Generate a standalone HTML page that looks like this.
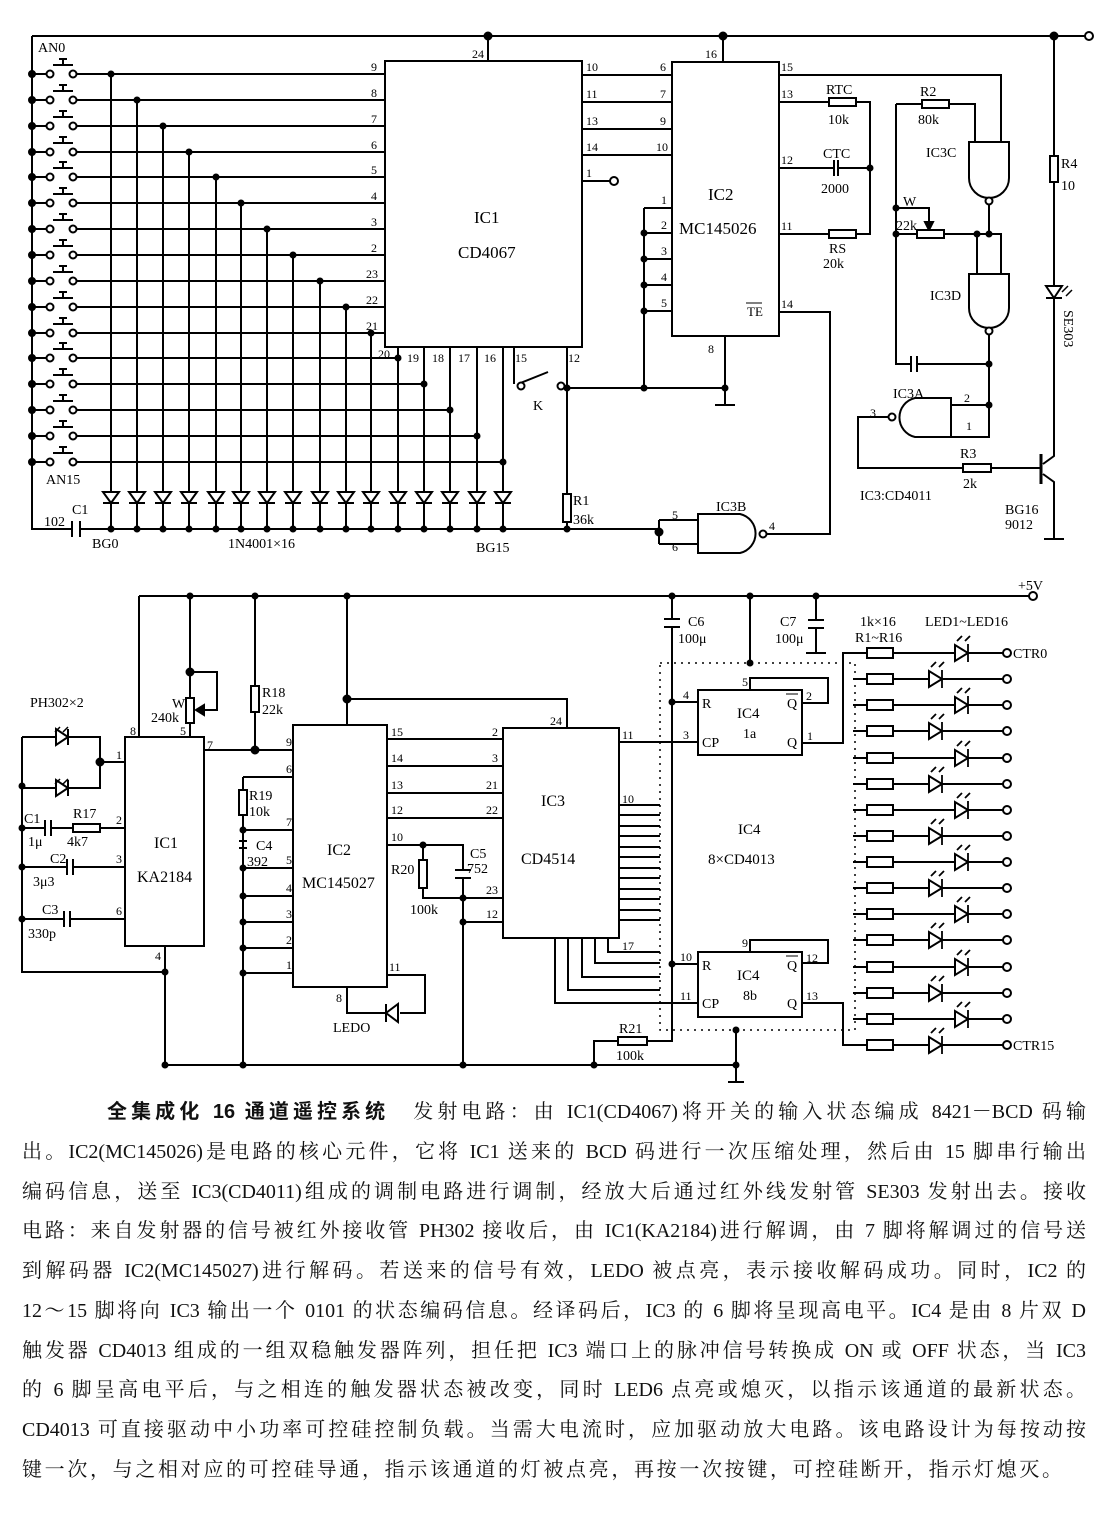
<!DOCTYPE html>
<html><head><meta charset="utf-8"><style>
html,body{margin:0;padding:0;background:#fff;}
#w{position:relative;width:1104px;height:1517px;overflow:hidden;background:#fff;}
svg{position:absolute;left:0;top:0;}
svg text{font-family:"Liberation Serif","Noto Serif CJK SC",serif;fill:#000;}
.t{position:absolute;left:22px;width:1064px;font-family:"Liberation Serif","Noto Serif CJK SC",serif;font-size:20px;line-height:24px;white-space:nowrap;text-align:justify;text-align-last:justify;color:#111;}
.b{font-family:"Liberation Sans","Noto Sans CJK SC",sans-serif;font-weight:bold;}
</style></head><body><div id="w">
<svg width="1104" height="1090" viewBox="0 0 1104 1090" fill="none" stroke="#000" stroke-width="2">
<defs>
<g id="sw">
<path d="M32 0H47M53 -9H73M63 -9V-15M59 -15H67M76 0H80"/>
<circle cx="50" cy="0" r="3.5" fill="#fff"/><circle cx="73" cy="0" r="3.5" fill="#fff"/>
<circle cx="32" cy="0" r="3" fill="#000"/>
</g>
<g id="dd"><path d="M103 492H119L111 503Z" fill="#fff"/><path d="M103 503H119"/></g>
<g id="lr"><path d="M853 0H1003"/><rect x="867" y="-5" width="26" height="10" fill="#fff"/><circle cx="1007" cy="0" r="4" fill="#fff"/></g>
<g id="led"><path d="M-8 -8V8L5 0Z" fill="#fff"/><path d="M5 -9V9M-6 -12l5-5M2 -12l5-5" stroke-width="1.8"/></g>
</defs>
<!-- ===== TOP CIRCUIT ===== -->
<path d="M32 36H1085M32 36V529H72M80 529H659"/>
<circle cx="1089" cy="36" r="4" fill="#fff"/>
<circle cx="488" cy="36" r="3.5" fill="#000"/><circle cx="723" cy="36" r="3.5" fill="#000"/><circle cx="1054" cy="36" r="3.5" fill="#000"/>
<path d="M72 521V537M80 521V537"/>
<use href="#sw" y="74"/><use href="#sw" y="100"/><use href="#sw" y="126"/><use href="#sw" y="152"/><use href="#sw" y="177"/><use href="#sw" y="203"/><use href="#sw" y="229"/><use href="#sw" y="255"/><use href="#sw" y="281"/><use href="#sw" y="307"/><use href="#sw" y="333"/><use href="#sw" y="358"/><use href="#sw" y="384"/><use href="#sw" y="410"/><use href="#sw" y="436"/><use href="#sw" y="462"/>
<path d="M80 74H385M80 100H385M80 126H385M80 152H385M80 177H385M80 203H385M80 229H385M80 255H385M80 281H385M80 307H385M80 333H385M80 358H398M80 384H424M80 410H450M80 436H477M80 462H503"/>
<path d="M111 74V529M137 100V529M163 126V529M189 152V529M216 177V529M241 203V529M267 229V529M293 255V529M320 281V529M346 307V529M371 333V529M398 347V529M424 347V529M450 347V529M477 347V529M503 347V529"/>
<g fill="#000" stroke="none">
<circle cx="111" cy="74" r="3.5"/><circle cx="137" cy="100" r="3.5"/><circle cx="163" cy="126" r="3.5"/><circle cx="189" cy="152" r="3.5"/><circle cx="216" cy="177" r="3.5"/><circle cx="241" cy="203" r="3.5"/><circle cx="267" cy="229" r="3.5"/><circle cx="293" cy="255" r="3.5"/><circle cx="320" cy="281" r="3.5"/><circle cx="346" cy="307" r="3.5"/><circle cx="371" cy="333" r="3.5"/><circle cx="398" cy="358" r="3.5"/><circle cx="424" cy="384" r="3.5"/><circle cx="450" cy="410" r="3.5"/><circle cx="477" cy="436" r="3.5"/><circle cx="503" cy="462" r="3.5"/>
<circle cx="111" cy="529" r="3.5"/><circle cx="137" cy="529" r="3.5"/><circle cx="163" cy="529" r="3.5"/><circle cx="189" cy="529" r="3.5"/><circle cx="216" cy="529" r="3.5"/><circle cx="241" cy="529" r="3.5"/><circle cx="267" cy="529" r="3.5"/><circle cx="293" cy="529" r="3.5"/><circle cx="320" cy="529" r="3.5"/><circle cx="346" cy="529" r="3.5"/><circle cx="371" cy="529" r="3.5"/><circle cx="398" cy="529" r="3.5"/><circle cx="424" cy="529" r="3.5"/><circle cx="450" cy="529" r="3.5"/><circle cx="477" cy="529" r="3.5"/><circle cx="503" cy="529" r="3.5"/><circle cx="567" cy="529" r="3.5"/>
</g>
<use href="#dd" x="0"/><use href="#dd" x="26"/><use href="#dd" x="52"/><use href="#dd" x="78"/><use href="#dd" x="105"/><use href="#dd" x="130"/><use href="#dd" x="156"/><use href="#dd" x="182"/><use href="#dd" x="209"/><use href="#dd" x="235"/><use href="#dd" x="260"/><use href="#dd" x="287"/><use href="#dd" x="313"/><use href="#dd" x="339"/><use href="#dd" x="366"/><use href="#dd" x="392"/>
<rect x="385" y="61" width="197" height="286" fill="#fff"/>
<path d="M488 36V61M398 347V358M424 347V384M450 347V410M477 347V436M503 347V462"/>
<path d="M514 347V384M518 384L548 372M567 347V529"/>
<circle cx="521" cy="386" r="3.5" fill="#fff"/><circle cx="561" cy="386" r="3.5" fill="#fff"/>
<path d="M565 386H567"/>
<rect x="563" y="494" width="8" height="28" fill="#fff"/>
<path d="M582 75H672M582 102H672M582 129H672M582 155H672M582 181H610"/>
<circle cx="614" cy="181" r="4" fill="#fff"/>
<rect x="672" y="62" width="107" height="274" fill="#fff"/>
<path d="M723 36V62M644 208H672M644 233H672M644 259H672M644 285H672M644 311H672M644 208V388M567 388H725M725 336V405M715 405H735"/>
<g fill="#000" stroke="none"><circle cx="644" cy="233" r="3.5"/><circle cx="644" cy="259" r="3.5"/><circle cx="644" cy="285" r="3.5"/><circle cx="644" cy="311" r="3.5"/><circle cx="644" cy="388" r="3.5"/><circle cx="725" cy="388" r="3.5"/><circle cx="567" cy="388" r="3.5"/><circle cx="870" cy="168" r="3.5"/></g>
<path d="M779 75H1001V142M779 102H829M856 102H870V234H856M779 168H834M838 168H870M779 234H829M779 312H830V534H765"/>
<rect x="829" y="98" width="27" height="8" fill="#fff"/><rect x="829" y="230" width="27" height="8" fill="#fff"/>
<path d="M834 160V176M838 160V176"/>
<path d="M896 104H922M949 104H975V142M896 104V364H911M917 364H989M911 356V372M917 356V372"/>
<rect x="922" y="100" width="27" height="8" fill="#fff"/>
<path d="M896 208H929V224"/>
<path d="M925 222L929 230L933 222Z" fill="#000"/>
<path d="M896 234H917M944 234H1001V274M977 234V274M989 205V234"/>
<rect x="917" y="230" width="27" height="8" fill="#fff"/>
<path d="M969 142H1009V178A20 20 0 0 1 969 178Z" fill="#fff"/><circle cx="989" cy="201" r="3.5" fill="#fff"/>
<path d="M969 274H1009V308A20 20 0 0 1 969 308Z" fill="#fff"/><circle cx="989" cy="331" r="3.5" fill="#fff"/>
<path d="M989 335V437H951M989 405H951"/>
<path d="M951 398H915A20 20 0 0 0 915 437H951Z" fill="#fff"/><circle cx="892" cy="417" r="3.5" fill="#fff"/>
<path d="M888 417H858V468H963M991 468H1041"/>
<rect x="963" y="464" width="28" height="8" fill="#fff"/>
<g fill="#000" stroke="none"><circle cx="896" cy="208" r="3.5"/><circle cx="896" cy="234" r="3.5"/><circle cx="977" cy="234" r="3.5"/><circle cx="989" cy="234" r="3.5"/><circle cx="989" cy="364" r="3.5"/><circle cx="989" cy="405" r="3.5"/></g>
<path d="M1054 36V156M1054 182V456L1043 464M1043 474L1054 482V539M1044 539H1064"/>
<rect x="1050" y="156" width="8" height="26" fill="#fff"/>
<path d="M1041 454V484" stroke-width="3"/>
<path d="M1046 286H1062L1054 298Z" fill="#fff"/><path d="M1046 298H1062"/>
<path d="M1062 292l6-6M1066 296l6-6" stroke-width="1.5"/>
<path d="M659 520H698M659 544H698M659 520V544"/>
<circle cx="659" cy="532" r="3.5" fill="#000"/>
<path d="M698 514H740A20 20 0 0 1 740 553H698Z" fill="#fff"/><circle cx="763" cy="534" r="3.5" fill="#fff"/>

<g stroke="none" font-size="14">
<text x="38" y="52">AN0</text><text x="46" y="484">AN15</text>
<text x="72" y="514">C1</text><text x="44" y="526">102</text>
<text x="92" y="548">BG0</text><text x="228" y="548">1N4001×16</text><text x="476" y="552">BG15</text>
<text x="371" y="71" font-size="12">9</text><text x="371" y="97" font-size="12">8</text><text x="371" y="123" font-size="12">7</text><text x="371" y="149" font-size="12">6</text><text x="371" y="174" font-size="12">5</text><text x="371" y="200" font-size="12">4</text><text x="371" y="226" font-size="12">3</text><text x="371" y="252" font-size="12">2</text><text x="366" y="278" font-size="12">23</text><text x="366" y="304" font-size="12">22</text><text x="366" y="330" font-size="12">21</text>
<text x="378" y="358" font-size="12">20</text><text x="407" y="362" font-size="12">19</text><text x="432" y="362" font-size="12">18</text><text x="458" y="362" font-size="12">17</text><text x="484" y="362" font-size="12">16</text><text x="515" y="362" font-size="12">15</text><text x="568" y="362" font-size="12">12</text>
<text x="472" y="58" font-size="12">24</text>
<text x="474" y="223" font-size="17">IC1</text><text x="458" y="258" font-size="17">CD4067</text>
<text x="533" y="410">K</text><text x="573" y="505">R1</text><text x="573" y="524">36k</text>
<text x="586" y="71" font-size="12">10</text><text x="586" y="98" font-size="12">11</text><text x="586" y="125" font-size="12">13</text><text x="586" y="151" font-size="12">14</text><text x="586" y="177" font-size="12">1</text>
<text x="660" y="71" font-size="12">6</text><text x="660" y="98" font-size="12">7</text><text x="660" y="125" font-size="12">9</text><text x="656" y="151" font-size="12">10</text>
<text x="661" y="204" font-size="12">1</text><text x="661" y="229" font-size="12">2</text><text x="661" y="255" font-size="12">3</text><text x="661" y="281" font-size="12">4</text><text x="661" y="307" font-size="12">5</text>
<text x="705" y="58" font-size="12">16</text><text x="708" y="353" font-size="12">8</text>
<text x="708" y="200" font-size="17">IC2</text><text x="679" y="234" font-size="17">MC145026</text>
<text x="781" y="71" font-size="12">15</text><text x="781" y="98" font-size="12">13</text><text x="781" y="164" font-size="12">12</text><text x="781" y="230" font-size="12">11</text><text x="781" y="308" font-size="12">14</text>
<text x="747" y="316" font-size="13">TE</text><path d="M746 303H762" stroke="#000" stroke-width="1"/>
<text x="826" y="94">RTC</text><text x="828" y="124">10k</text><text x="823" y="158">CTC</text><text x="821" y="193">2000</text><text x="829" y="253">RS</text><text x="823" y="268">20k</text>
<text x="920" y="96">R2</text><text x="918" y="124">80k</text><text x="926" y="157">IC3C</text>
<text x="903" y="206">W</text><text x="896" y="230">22k</text><text x="930" y="300">IC3D</text><text x="893" y="398">IC3A</text>
<text x="870" y="417" font-size="12">3</text><text x="964" y="402" font-size="12">2</text><text x="966" y="430" font-size="12">1</text>
<text x="960" y="458">R3</text><text x="963" y="488">2k</text>
<text x="860" y="500">IC3:CD4011</text><text x="1005" y="514">BG16</text><text x="1005" y="529">9012</text>
<text x="1061" y="168">R4</text><text x="1061" y="190">10</text>
<text x="1064" y="310" transform="rotate(90 1064 310)">SE303</text>
<text x="716" y="511">IC3B</text><text x="672" y="519" font-size="12">5</text><text x="672" y="551" font-size="12">6</text><text x="769" y="530" font-size="12">4</text>
</g>

<!-- ===== BOTTOM CIRCUIT ===== -->
<path d="M139 596H1029M139 596V737"/>
<circle cx="1033" cy="596" r="4" fill="#fff"/>
<g fill="#000" stroke="none"><circle cx="190" cy="596" r="3.5"/><circle cx="255" cy="596" r="3.5"/><circle cx="347" cy="596" r="3.5"/><circle cx="672" cy="596" r="3.5"/><circle cx="750" cy="596" r="3.5"/><circle cx="816" cy="596" r="3.5"/></g>
<path d="M190 596V698M190 672H217V710H200M190 723V737"/>
<circle cx="190" cy="672" r="3.5" fill="#000"/>
<rect x="186" y="698" width="8" height="25" fill="#fff"/>
<path d="M196 710l8-5v10z" fill="#000"/>
<path d="M255 596V686M255 712V750M204 750H293"/>
<rect x="251" y="686" width="8" height="26" fill="#fff"/>
<circle cx="255" cy="750" r="3.5" fill="#000"/>
<rect x="125" y="737" width="79" height="209" fill="#fff"/>
<path d="M100 762H125M22 737H100V762M22 788H100V762M22 737V972H165M165 946V1065H736"/>
<circle cx="100" cy="762" r="3.5" fill="#000"/>
<path d="M56 729V745L68 737Z" fill="#fff"/><path d="M68 729V745"/>
<path d="M56 780V796L68 788Z" fill="#fff"/><path d="M68 780V796"/>
<path d="M60 727l-5 5M68 727l-5 5M60 779l-5 5M68 779l-5 5" stroke-width="1.5"/>
<g fill="#000" stroke="none"><circle cx="22" cy="786" r="3.5"/><circle cx="22" cy="828" r="3.5"/><circle cx="22" cy="867" r="3.5"/><circle cx="22" cy="919" r="3.5"/><circle cx="165" cy="972" r="3.5"/></g>
<path d="M22 828H45M51 828H73M100 828H125M45 820V836M51 820V836"/>
<rect x="73" y="824" width="27" height="8" fill="#fff"/>
<path d="M22 867H67M73 867H125M67 859V875M73 859V875M22 919H64M70 919H125M64 911V927M70 911V927"/>
<rect x="293" y="725" width="94" height="262" fill="#fff"/>
<path d="M347 596V725M347 699H567V728"/>
<circle cx="347" cy="699" r="3.5" fill="#000"/>
<path d="M243 777H293M243 777V790M243 815V1065M243 830H293M239 841H247M239 848H247M243 868H293M243 896H293M243 922H293M243 948H293M243 973H293"/>
<rect x="239" y="790" width="8" height="25" fill="#fff"/>
<g fill="#000" stroke="none"><circle cx="243" cy="830" r="3.5"/><circle cx="243" cy="868" r="3.5"/><circle cx="243" cy="896" r="3.5"/><circle cx="243" cy="922" r="3.5"/><circle cx="243" cy="948" r="3.5"/><circle cx="243" cy="973" r="3.5"/><circle cx="243" cy="1065" r="3.5"/><circle cx="165" cy="1065" r="3.5"/></g>
<path d="M347 987V1013H385M400 1013H425V975H387"/>
<path d="M398 1004V1022L386 1013Z" fill="#fff"/><path d="M386 1004V1022"/>
<path d="M387 739H503M387 766H503M387 793H503M387 818H503M387 845H463V870M423 845V860M423 888V898H503M463 878V1065M455 870H471M455 878H471M463 922H503"/>
<rect x="419" y="860" width="8" height="28" fill="#fff"/>
<g fill="#000" stroke="none"><circle cx="423" cy="845" r="3.5"/><circle cx="463" cy="898" r="3.5"/><circle cx="463" cy="922" r="3.5"/><circle cx="463" cy="1065" r="3.5"/></g>
<rect x="503" y="728" width="116" height="210" fill="#fff"/>
<path d="M619 742H698M619 805H660M619 815H660M619 826H660M619 836H660M619 847H660M619 857H660M619 868H660M619 878H660M619 889H660M619 899H660M619 910H660M619 920H660"/>
<path d="M608 938V952H660M595 938V963H660M582 938V977H660M568 938V990H660M555 938V1003H698"/>
<rect x="660" y="663" width="195" height="367" stroke-dasharray="2 5" stroke-width="1.5"/>
<path d="M672 596V619M672 627V1041H647M618 1041H594V1065M664 619H680M664 627H680M672 702H698M672 964H698"/>
<rect x="618" y="1037" width="29" height="8" fill="#fff"/>
<g fill="#000" stroke="none"><circle cx="672" cy="702" r="3.5"/><circle cx="672" cy="964" r="3.5"/><circle cx="750" cy="663" r="3.5"/><circle cx="736" cy="1030" r="3.5"/><circle cx="736" cy="1065" r="3.5"/><circle cx="594" cy="1065" r="3.5"/></g>
<path d="M750 596V663M816 596V620M816 628V653M806 653H826M808 620H824M808 628H824"/>
<path d="M736 1030V1082M728 1082H744"/>
<rect x="698" y="690" width="104" height="65" fill="#fff"/>
<path d="M750 690V678H828V703H802M802 743H843V653H867"/>
<rect x="698" y="952" width="104" height="65" fill="#fff"/>
<path d="M750 952V940H828V963H802M802 1003H843V1045H867"/>
<use href="#lr" y="653"/><use href="#lr" y="679"/><use href="#lr" y="705"/><use href="#lr" y="731"/><use href="#lr" y="758"/><use href="#lr" y="784"/><use href="#lr" y="810"/><use href="#lr" y="836"/><use href="#lr" y="862"/><use href="#lr" y="888"/><use href="#lr" y="914"/><use href="#lr" y="940"/><use href="#lr" y="967"/><use href="#lr" y="993"/><use href="#lr" y="1019"/><use href="#lr" y="1045"/>
<use href="#led" x="963" y="653"/><use href="#led" x="937" y="679"/><use href="#led" x="963" y="705"/><use href="#led" x="937" y="731"/><use href="#led" x="963" y="758"/><use href="#led" x="937" y="784"/><use href="#led" x="963" y="810"/><use href="#led" x="937" y="836"/><use href="#led" x="963" y="862"/><use href="#led" x="937" y="888"/><use href="#led" x="963" y="914"/><use href="#led" x="937" y="940"/><use href="#led" x="963" y="967"/><use href="#led" x="937" y="993"/><use href="#led" x="963" y="1019"/><use href="#led" x="937" y="1045"/>

<g stroke="none" font-size="14">
<text x="30" y="707">PH302×2</text>
<text x="172" y="708">W</text><text x="151" y="722">240k</text>
<text x="262" y="697">R18</text><text x="262" y="714">22k</text>
<text x="130" y="735" font-size="12">8</text><text x="180" y="735" font-size="12">5</text><text x="207" y="749" font-size="12">7</text>
<text x="116" y="759" font-size="12">1</text><text x="116" y="824" font-size="12">2</text><text x="116" y="863" font-size="12">3</text><text x="116" y="915" font-size="12">6</text><text x="155" y="960" font-size="12">4</text>
<text x="154" y="848" font-size="16">IC1</text><text x="137" y="882" font-size="16">KA2184</text>
<text x="24" y="823">C1</text><text x="28" y="846">1μ</text><text x="73" y="818">R17</text><text x="67" y="846">4k7</text>
<text x="50" y="863">C2</text><text x="33" y="886">3μ3</text><text x="42" y="914">C3</text><text x="28" y="938">330p</text>
<text x="286" y="746" font-size="12">9</text><text x="286" y="773" font-size="12">6</text><text x="286" y="826" font-size="12">7</text><text x="286" y="864" font-size="12">5</text><text x="286" y="892" font-size="12">4</text><text x="286" y="918" font-size="12">3</text><text x="286" y="944" font-size="12">2</text><text x="286" y="969" font-size="12">1</text>
<text x="249" y="800">R19</text><text x="249" y="816">10k</text><text x="256" y="850">C4</text><text x="247" y="866">392</text>
<text x="327" y="855" font-size="16">IC2</text><text x="302" y="888" font-size="16">MC145027</text>
<text x="391" y="736" font-size="12">15</text><text x="391" y="762" font-size="12">14</text><text x="391" y="789" font-size="12">13</text><text x="391" y="814" font-size="12">12</text><text x="391" y="841" font-size="12">10</text><text x="389" y="971" font-size="12">11</text><text x="336" y="1002" font-size="12">8</text>
<text x="391" y="874">R20</text><text x="410" y="914">100k</text><text x="470" y="858">C5</text><text x="467" y="873">752</text>
<text x="333" y="1032">LEDO</text>
<text x="492" y="736" font-size="12">2</text><text x="492" y="762" font-size="12">3</text><text x="486" y="789" font-size="12">21</text><text x="486" y="814" font-size="12">22</text><text x="486" y="894" font-size="12">23</text><text x="486" y="918" font-size="12">12</text>
<text x="550" y="725" font-size="12">24</text><text x="622" y="739" font-size="12">11</text><text x="622" y="803" font-size="12">10</text><text x="622" y="950" font-size="12">17</text>
<text x="541" y="806" font-size="16">IC3</text><text x="521" y="864" font-size="16">CD4514</text>
<text x="688" y="626">C6</text><text x="678" y="643">100μ</text><text x="780" y="626">C7</text><text x="775" y="643">100μ</text>
<text x="683" y="699" font-size="12">4</text><text x="683" y="739" font-size="12">3</text><text x="742" y="686" font-size="12">5</text><text x="806" y="700" font-size="12">2</text><text x="807" y="740" font-size="12">1</text>
<text x="702" y="708">R</text><text x="702" y="747">CP</text><text x="787" y="708">Q</text><text x="787" y="747">Q</text><path d="M786 694H798" stroke="#000" stroke-width="1"/>
<text x="737" y="718" font-size="15">IC4</text><text x="743" y="738">1a</text>
<text x="738" y="834" font-size="15">IC4</text><text x="708" y="864" font-size="15">8×CD4013</text>
<text x="680" y="961" font-size="12">10</text><text x="680" y="1000" font-size="12">11</text><text x="742" y="947" font-size="12">9</text><text x="806" y="962" font-size="12">12</text><text x="806" y="1000" font-size="12">13</text>
<text x="702" y="970">R</text><text x="702" y="1008">CP</text><text x="787" y="970">Q</text><text x="787" y="1008">Q</text><path d="M786 956H798" stroke="#000" stroke-width="1"/>
<text x="737" y="980" font-size="15">IC4</text><text x="743" y="1000">8b</text>
<text x="619" y="1033">R21</text><text x="616" y="1060">100k</text>
<text x="1018" y="590">+5V</text><text x="860" y="626">1k×16</text><text x="855" y="642">R1~R16</text><text x="925" y="626">LED1~LED16</text>
<text x="1013" y="658">CTR0</text><text x="1013" y="1050">CTR15</text>
</g>
</svg>
<div class="t" style="top:1100px;left:107px;width:979px;"><span class="b">全集成化 16 通道遥控系统</span>　发射电路：由 IC1(CD4067)将开关的输入状态编成 8421－BCD 码输</div>
<div class="t" style="top:1140px;">出。IC2(MC145026)是电路的核心元件，它将 IC1 送来的 BCD 码进行一次压缩处理，然后由 15 脚串行输出</div>
<div class="t" style="top:1180px;">编码信息，送至 IC3(CD4011)组成的调制电路进行调制，经放大后通过红外线发射管 SE303 发射出去。接收</div>
<div class="t" style="top:1219px;">电路：来自发射器的信号被红外接收管 PH302 接收后，由 IC1(KA2184)进行解调，由 7 脚将解调过的信号送</div>
<div class="t" style="top:1259px;">到解码器 IC2(MC145027)进行解码。若送来的信号有效，LEDO 被点亮，表示接收解码成功。同时，IC2 的</div>
<div class="t" style="top:1299px;">12～15 脚将向 IC3 输出一个 0101 的状态编码信息。经译码后，IC3 的 6 脚将呈现高电平。IC4 是由 8 片双 D</div>
<div class="t" style="top:1339px;">触发器 CD4013 组成的一组双稳触发器阵列，担任把 IC3 端口上的脉冲信号转换成 ON 或 OFF 状态，当 IC3</div>
<div class="t" style="top:1378px;">的 6 脚呈高电平后，与之相连的触发器状态被改变，同时 LED6 点亮或熄灭，以指示该通道的最新状态。</div>
<div class="t" style="top:1418px;">CD4013 可直接驱动中小功率可控硅控制负载。当需大电流时，应加驱动放大电路。该电路设计为每按动按</div>
<div class="t" style="top:1458px;width:1040px;">键一次，与之相对应的可控硅导通，指示该通道的灯被点亮，再按一次按键，可控硅断开，指示灯熄灭。</div>
</div></body></html>
